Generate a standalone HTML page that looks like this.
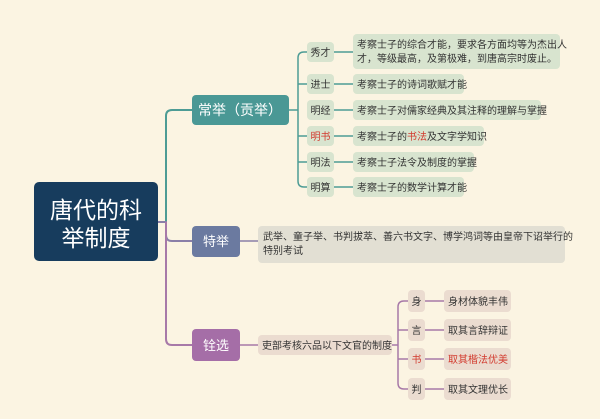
<!DOCTYPE html>
<html><head><meta charset="utf-8"><style>
html,body{margin:0;padding:0;background:#fbf4e2;}
svg{display:block;}
text{font-family:"Liberation Sans","Noto Sans CJK SC",sans-serif;}
</style></head><body>
<svg width="600" height="419" viewBox="0 0 600 419" xmlns="http://www.w3.org/2000/svg">
<rect width="600" height="419" fill="#fbf4e2"/>
<path d="M158 222 H166 V116 Q166 110 172 110 H192" fill="none" stroke="#4d9c95" stroke-width="2"/>
<path d="M158 222 H166 V235 Q166 241 172 241 H192" fill="none" stroke="#8a7fa8" stroke-width="2"/>
<path d="M166 222 V339 Q166 345 172 345 H192" fill="none" stroke="#a779a8" stroke-width="2"/>
<rect x="34" y="182" width="124" height="79" rx="5" fill="#173c5d"/>
<text x="96" y="218" font-size="23" fill="#fff" text-anchor="middle">唐代的科</text>
<text x="96" y="246" font-size="23" fill="#fff" text-anchor="middle">举制度</text>
<rect x="192" y="95" width="97" height="30" rx="4" fill="#4a9895"/>
<text x="240" y="115" font-size="14" fill="#fff" text-anchor="middle">常举（贡举）</text>
<path d="M289 110 H298" stroke="#4d9c95" stroke-width="1.5" fill="none"/>
<path d="M308 52 H304 Q298 52 298 58 V181 Q298 187 304 187 H308" stroke="#4d9c95" stroke-width="1.5" fill="none"/>
<g stroke="#4d9c95" stroke-width="1.5">
<line x1="298" y1="84" x2="308" y2="84"/><line x1="298" y1="136" x2="308" y2="136"/><line x1="298" y1="162" x2="308" y2="162"/>
<line x1="334" y1="52" x2="353" y2="52"/><line x1="334" y1="84" x2="353" y2="84"/><line x1="334" y1="110" x2="353" y2="110"/>
<line x1="334" y1="136" x2="353" y2="136"/><line x1="334" y1="162" x2="353" y2="162"/><line x1="334" y1="187" x2="353" y2="187"/>
</g>
<g fill="#d8e4cf">
<rect x="307" y="42" width="27" height="20" rx="4"/>
<rect x="307" y="74" width="27" height="20" rx="4"/>
<rect x="307" y="100" width="27" height="20" rx="4"/>
<rect x="307" y="126" width="27" height="20" rx="4"/>
<rect x="307" y="152" width="27" height="20" rx="4"/>
<rect x="307" y="177" width="27" height="20" rx="4"/>
<rect x="353" y="34" width="207" height="35" rx="4"/>
<rect x="353" y="74" width="111" height="20" rx="4"/>
<rect x="353" y="100" width="188" height="20" rx="4"/>
<rect x="353" y="126" width="131" height="20" rx="4"/>
<rect x="353" y="152" width="121" height="20" rx="4"/>
<rect x="353" y="177" width="111" height="20" rx="4"/>
</g>
<g font-size="10" fill="#333">
<text x="320.5" y="56" text-anchor="middle">秀才</text>
<text x="320.5" y="88" text-anchor="middle">进士</text>
<text x="320.5" y="114" text-anchor="middle">明经</text>
<text x="320.5" y="140" text-anchor="middle" fill="#d23a2e">明书</text>
<text x="320.5" y="166" text-anchor="middle">明法</text>
<text x="320.5" y="191" text-anchor="middle">明算</text>
<text x="357" y="48">考察士子的综合才能，要求各方面均等为杰出人</text>
<text x="357" y="62">才，等级最高，及第极难，到唐高宗时废止。</text>
<text x="357" y="88">考察士子的诗词歌赋才能</text>
<text x="357" y="114">考察士子对儒家经典及其注释的理解与掌握</text>
<text x="357" y="140">考察士子的<tspan fill="#d23a2e">书法</tspan>及文字学知识</text>
<text x="357" y="166">考察士子法令及制度的掌握</text>
<text x="357" y="191">考察士子的数学计算才能</text>
</g>
<rect x="192" y="226" width="48" height="31" rx="4" fill="#6b7aa0"/>
<text x="216" y="246" font-size="13" fill="#fff" text-anchor="middle">特举</text>
<line x1="240" y1="241" x2="258" y2="241" stroke="#8a7fa8" stroke-width="1.5"/>
<rect x="258" y="226" width="307" height="37" rx="4" fill="#e2dfd3"/>
<text x="263" y="240" font-size="10" fill="#333">武举、童子举、书判拔萃、善六书文字、博学鸿词等由皇帝下诏举行的</text>
<text x="263" y="254" font-size="10" fill="#333">特别考试</text>
<rect x="192" y="329" width="48" height="32" rx="4" fill="#a56ea7"/>
<text x="216" y="350" font-size="13" fill="#fff" text-anchor="middle">铨选</text>
<line x1="240" y1="345" x2="258" y2="345" stroke="#a779a8" stroke-width="1.5"/>
<rect x="258" y="335" width="134" height="20" rx="4" fill="#ebdcd0"/>
<text x="262" y="349" font-size="10" fill="#333">吏部考核六品以下文官的制度</text>
<line x1="392" y1="345" x2="398" y2="345" stroke="#a779a8" stroke-width="1.5"/>
<path d="M409 301 H404 Q398 301 398 307 V383 Q398 389 404 389 H409" stroke="#a779a8" stroke-width="1.5" fill="none"/>
<g stroke="#a779a8" stroke-width="1.5">
<line x1="398" y1="330" x2="409" y2="330"/><line x1="398" y1="359" x2="409" y2="359"/>
<line x1="425" y1="301" x2="444" y2="301"/><line x1="425" y1="330" x2="444" y2="330"/>
<line x1="425" y1="359" x2="444" y2="359"/><line x1="425" y1="389" x2="444" y2="389"/>
</g>
<g fill="#ebdcd0">
<rect x="408" y="290" width="17" height="22" rx="4"/>
<rect x="408" y="319" width="17" height="22" rx="4"/>
<rect x="408" y="348" width="17" height="22" rx="4"/>
<rect x="408" y="378" width="17" height="22" rx="4"/>
<rect x="444" y="290" width="67" height="22" rx="4"/>
<rect x="444" y="319" width="67" height="22" rx="4"/>
<rect x="444" y="348" width="67" height="22" rx="4"/>
<rect x="444" y="378" width="67" height="22" rx="4"/>
</g>
<g font-size="10" fill="#333">
<text x="416.5" y="305" text-anchor="middle">身</text>
<text x="416.5" y="334" text-anchor="middle">言</text>
<text x="416.5" y="363" text-anchor="middle" fill="#d23a2e">书</text>
<text x="416.5" y="393" text-anchor="middle">判</text>
<text x="448" y="305">身材体貌丰伟</text>
<text x="448" y="334">取其言辞辩证</text>
<text x="448" y="363" fill="#d23a2e">取其楷法优美</text>
<text x="448" y="393">取其文理优长</text>
</g>
</svg>
</body></html>
